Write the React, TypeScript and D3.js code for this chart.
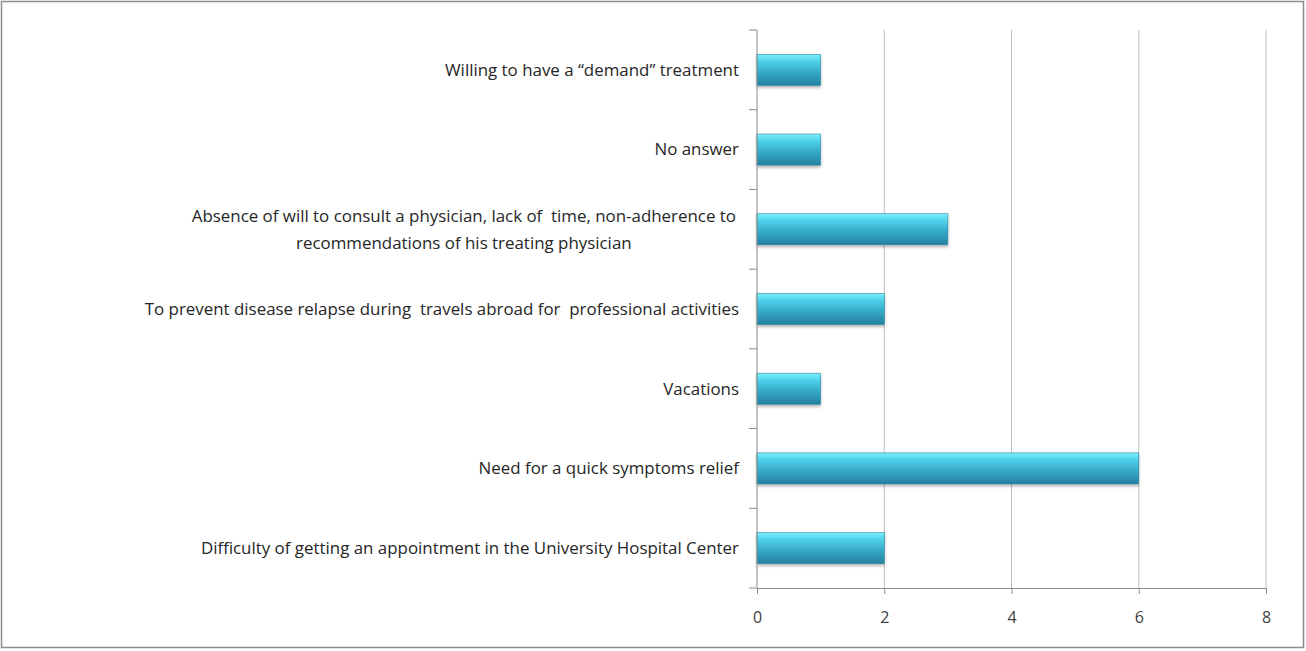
import * as d3 from 'd3';
import { useEffect, useRef } from 'react';

// categories from bottom to top as in the chart
const categories = [
  'Difficulty of getting an appointment in the University Hospital Center',
  'Need for a quick symptoms relief',
  'Vacations',
  'To prevent disease relapse during  travels abroad for  professional activities',
  'Absence of will to consult a physician, lack of  time, non-adherence to\nrecommendations of his treating physician',
  'No answer',
  'Willing to have a \u201Cdemand\u201D treatment',
];
const values = [2, 6, 1, 2, 3, 1, 1];
const xTicks = [0, 2, 4, 6, 8];

const W = 1306;
const H = 651;

// keep the double spaces of the original labels
const keepSpaces = (s: string) => s.replace(/ {2}/g, ' \u00a0');

export default function App() {
  const ref = useRef<SVGSVGElement>(null);

  useEffect(() => {
    if (!ref.current) return;
    const svg = d3.select(ref.current);
    svg.selectAll('*').remove();

    const margin = { left: 757, right: 40, top: 30, bottom: 63 };
    const x = d3.scaleLinear().domain([0, 8]).range([margin.left, W - margin.right]);
    const y = d3
      .scaleBand()
      .domain(categories.slice().reverse())
      .range([margin.top, H - margin.bottom])
      .paddingInner(0.61)
      .paddingOuter(0.305);

    const defs = svg.append('defs');
    const grad = defs.append('linearGradient').attr('id', 'barGrad').attr('x1', 0).attr('y1', 0).attr('x2', 0).attr('y2', 1);
    grad.append('stop').attr('offset', '0%').attr('stop-color', '#7ff0fc');
    grad.append('stop').attr('offset', '22%').attr('stop-color', '#4fd0ea');
    grad.append('stop').attr('offset', '60%').attr('stop-color', '#35a7c6');
    grad.append('stop').attr('offset', '100%').attr('stop-color', '#24809f');
    const shadow = defs.append('filter').attr('id', 'shadow').attr('x', '-5%').attr('y', '-20%').attr('width', '110%').attr('height', '160%');
    shadow.append('feDropShadow').attr('dx', 0).attr('dy', 2).attr('stdDeviation', 1.5).attr('flood-color', '#000').attr('flood-opacity', 0.3);

    // outer frame
    svg.append('rect').attr('x', 1.5).attr('y', 1.5).attr('width', W - 4).attr('height', H - 5)
      .attr('fill', '#fff').attr('stroke', '#8c8c8c').attr('stroke-width', 1.5);

    const [top, bottom] = [margin.top, H - margin.bottom];

    // gridlines
    svg.append('g').selectAll('line').data(xTicks.slice(1)).join('line')
      .attr('x1', (d) => x(d)).attr('x2', (d) => x(d))
      .attr('y1', top).attr('y2', bottom)
      .attr('stroke', '#bfbfbf').attr('stroke-width', 1);

    // bars
    const rows = categories.map((c, i) => ({ c, v: values[i] }));
    svg.append('g').selectAll('rect').data(rows).join('rect')
      .attr('x', x(0))
      .attr('y', (d) => y(d.c) as number)
      .attr('width', (d) => x(d.v) - x(0))
      .attr('height', y.bandwidth())
      .attr('fill', 'url(#barGrad)')
      .attr('stroke', '#2b8aa6')
      .attr('stroke-width', 0.6)
      .attr('filter', 'url(#shadow)');

    // x axis
    const xAxis = svg.append('g').attr('transform', `translate(0,${bottom})`)
      .call(d3.axisBottom(x).tickValues(xTicks).tickSize(6).tickPadding(18));
    xAxis.select('.domain').attr('stroke', '#8c8c8c');
    xAxis.selectAll('.tick line').attr('stroke', '#8c8c8c');
    xAxis.selectAll('text').attr('fill', '#404040').style('font', '16px "Open Sans", sans-serif');

    // y axis line and category boundary ticks
    const step = y.step();
    svg.append('line').attr('x1', x(0)).attr('x2', x(0)).attr('y1', top).attr('y2', bottom).attr('stroke', '#8c8c8c');
    svg.append('g').selectAll('line').data(d3.range(categories.length + 1)).join('line')
      .attr('x1', x(0) - 8).attr('x2', x(0))
      .attr('y1', (i) => top + i * step).attr('y2', (i) => top + i * step)
      .attr('stroke', '#8c8c8c');

    // category labels
    const labelRight = x(0) - 18;
    const labels = svg.append('g')
      .style('font', '16.9px "Open Sans", sans-serif')
      .attr('fill', '#262626');
    rows.forEach((d) => {
      const lines = d.c.split('\n').map(keepSpaces);
      const cy = (y(d.c) as number) + y.bandwidth() / 2;
      const t = labels.append('text').attr('y', cy);
      if (lines.length === 1) {
        t.attr('x', labelRight).attr('text-anchor', 'end').attr('dy', '0.35em').text(lines[0]);
      } else {
        // measure widest line, then center all lines within it
        const probe = labels.append('text').text(lines[0]);
        const wMax = d3.max(lines, (l) => {
          probe.text(l);
          return (probe.node() as SVGTextElement).getComputedTextLength();
        }) as number;
        probe.remove();
        const cx = labelRight - 3 - wMax / 2;
        lines.forEach((l, k) => {
          t.append('tspan').attr('x', cx).attr('text-anchor', 'middle')
            .attr('dy', k === 0 ? `${0.35 - (lines.length - 1) * 0.8}em` : '1.6em')
            .text(l);
        });
      }
    });
  }, []);

  return (
    <svg ref={ref} width={W} height={H} style={{ position: 'absolute', left: 0, top: 0 }} />
  );
}
